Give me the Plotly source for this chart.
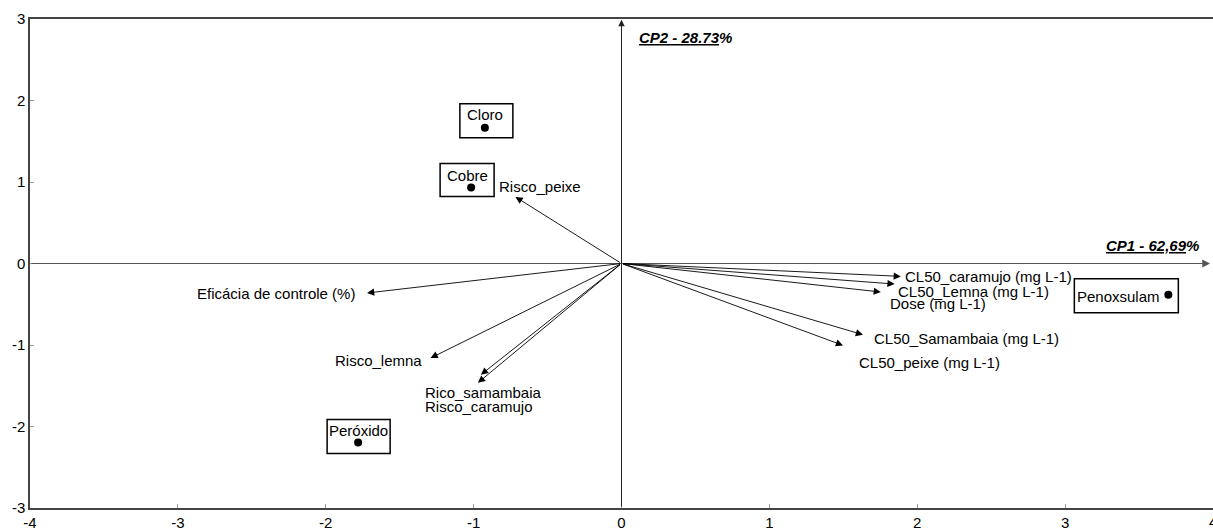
import plotly.graph_objects as go

# ---- data ----
score_names = ["Cloro", "Cobre", "Peróxido", "Penoxsulam"]
score_x = [-0.924, -1.017, -1.781, 3.698]
score_y = [1.666, 0.931, -2.195, -0.383]

var_names = ["Risco_peixe", "Eficácia de controle (%)", "Risco_lemna", "Rico_samambaia",
             "Risco_caramujo", "CL50_caramujo (mg L-1)", "CL50_Lemna (mg L-1)", "Dose (mg L-1)",
             "CL50_Samambaia (mg L-1)", "CL50_peixe (mg L-1)"]
var_x = [-0.717, -1.721, -1.291, -0.971, -0.951, 1.889, 1.847, 1.754, 1.633, 1.498]
var_y = [0.817, -0.362, -1.160, -1.464, -1.365, -0.158, -0.252, -0.350, -0.874, -1.005]

x_ticks = [-4, -3, -2, -1, 0, 1, 2, 3, 4]
y_ticks = [-3, -2, -1, 0, 1, 2, 3]
cp1_label = "CP1 - 62,69"
cp2_label = "CP2 - 28.73"

# ---- layout helpers (pixel offsets) ----
var_label_style = [  # (xanchor, xshift, yshift)
    ("left", -18, 10), ("right", -10, 0), ("right", -7, -2), ("left", -55, -10),
    ("left", -58, -32), ("left", 2, 0), ("left", 1, -7), ("left", 7, -11),
    ("left", 9, -4), ("left", 14, -17),
]
score_label_shift = [(0, 13), (-4, 12), (0, 12), (-50, -2)]
score_box = [(-25, 28, -10, 24), (-31, 23, -9, 24), (-31, 32, -11, 23), (-94, 10, -18, 16)]

FONT = "Arial, Liberation Sans, sans-serif"
FS = 15

fig = go.Figure()
fig.add_trace(go.Scatter(x=score_x, y=score_y, mode="markers",
                         marker=dict(color="black", size=8), showlegend=False,
                         hoverinfo="skip"))

ann = []
# principal axes with arrows
ann.append(dict(x=3.98, y=0, ax=-4, ay=0, xref="x", yref="y", axref="x", ayref="y",
                text="", showarrow=True, arrowhead=2, arrowsize=1.3, arrowwidth=1.2,
                arrowcolor="#555555"))
ann.append(dict(x=0, y=2.99, ax=0, ay=-3, xref="x", yref="y", axref="x", ayref="y",
                text="", showarrow=True, arrowhead=2, arrowsize=1.3, arrowwidth=1,
                arrowcolor="#222222"))
ann.append(dict(x=4, y=0, xref="x", yref="y", xanchor="right", yanchor="bottom",
                xshift=-12, yshift=8, showarrow=False,
                text=f"<b><i><u>{cp1_label}</u>%</i></b>",
                font=dict(family=FONT, size=FS, color="black")))
ann.append(dict(x=0, y=3, xref="x", yref="y", xanchor="left", yanchor="middle",
                xshift=15, yshift=-18, showarrow=False,
                text=f"<b><i><u>{cp2_label}</u>%</i></b>",
                font=dict(family=FONT, size=FS, color="black")))
# partially visible last x tick label
ann.append(dict(x=4, y=-3, xref="x", yref="y", xanchor="center", yanchor="top",
                yshift=-3, showarrow=False, text=str(x_ticks[-1]),
                font=dict(family=FONT, size=FS, color="black")))

# variable arrows
for name, vx, vy, (xa, xs, ys) in zip(var_names, var_x, var_y, var_label_style):
    ann.append(dict(x=vx, y=vy, ax=0, ay=0, xref="x", yref="y", axref="x", ayref="y",
                    text="", showarrow=True, arrowhead=2, arrowsize=1.6, arrowwidth=0.9,
                    arrowcolor="black"))
    ann.append(dict(x=vx, y=vy, xref="x", yref="y", text=name, showarrow=False,
                    xanchor=xa, yanchor="middle", xshift=xs, yshift=ys,
                    font=dict(family=FONT, size=FS, color="black")))

# score labels
for name, sx, sy, (xs, ys) in zip(score_names, score_x, score_y, score_label_shift):
    ann.append(dict(x=sx, y=sy, xref="x", yref="y", text=name, showarrow=False,
                    xanchor="center", yanchor="middle", xshift=xs, yshift=ys,
                    font=dict(family=FONT, size=FS, color="black")))

shapes = []
for sx, sy, (x0, x1, y0, y1) in zip(score_x, score_y, score_box):
    shapes.append(dict(type="rect", xref="x", yref="y", xsizemode="pixel", ysizemode="pixel",
                       xanchor=sx, yanchor=sy, x0=x0, x1=x1, y0=y0, y1=y1,
                       line=dict(color="black", width=1.5), fillcolor="rgba(0,0,0,0)"))

fig.update_layout(
    width=1213, height=530,
    margin=dict(l=30, r=0, t=19, b=22),
    paper_bgcolor="white", plot_bgcolor="white",
    annotations=ann, shapes=shapes,
    font=dict(family=FONT, size=FS, color="black"),
    xaxis=dict(range=[-4, 4], tickvals=x_ticks[:-1], ticktext=[str(v) for v in x_ticks[:-1]],
               showgrid=False, zeroline=False, showline=True, mirror=True,
               linecolor="#444444", linewidth=1.5, ticks="inside", ticklen=4,
               tickcolor="#999999", tickfont=dict(family=FONT, size=FS, color="black")),
    yaxis=dict(range=[-3, 3], tickvals=y_ticks, ticktext=[str(v) for v in y_ticks],
               showgrid=False, zeroline=False, showline=True, mirror=False,
               linecolor="#444444", linewidth=1.5, ticks="inside", ticklen=4,
               tickcolor="#999999", tickfont=dict(family=FONT, size=FS, color="black")),
)

fig.write_html("out.html")
